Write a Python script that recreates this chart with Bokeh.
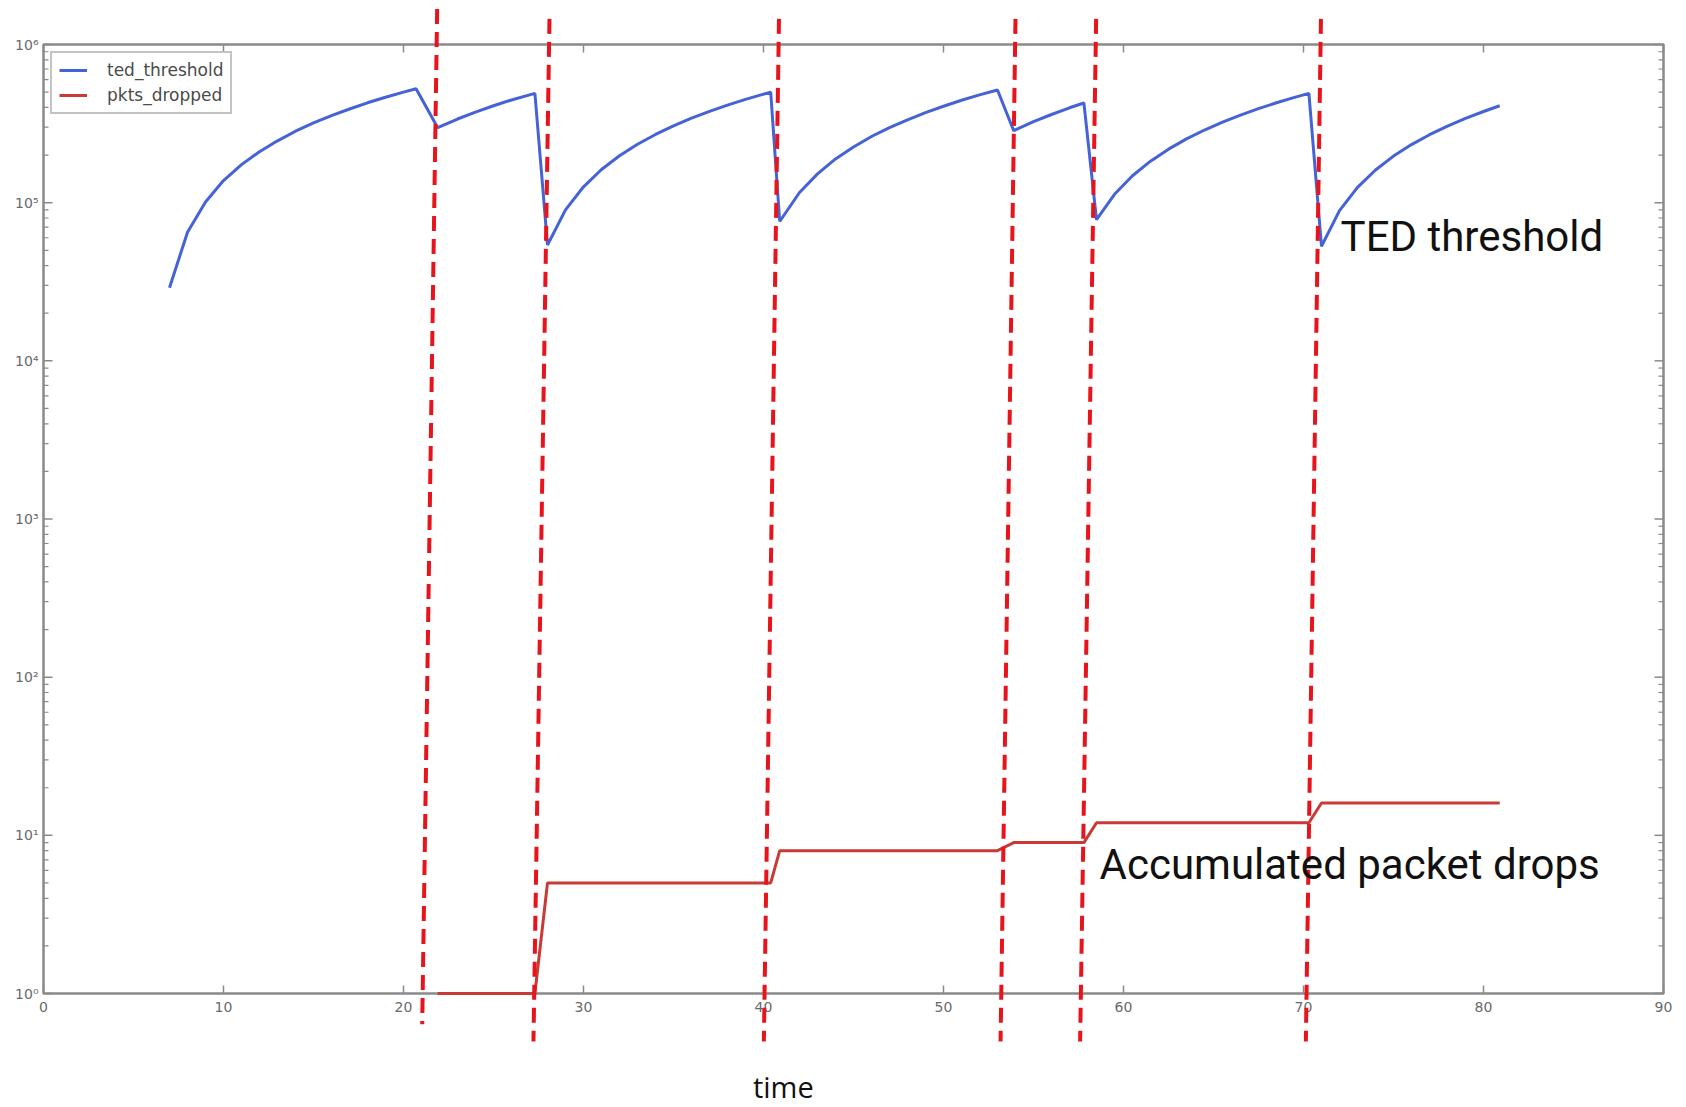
import math
from bokeh.plotting import figure
from bokeh.models import Legend, LegendItem, Label, Range1d, ColumnDataSource
from bokeh.core.properties import value
from bokeh.embed import file_html
from bokeh.resources import INLINE

# ---- data ----
ted_t = [7, 8, 9, 10, 11, 12, 13, 14, 15, 16, 17, 18, 19, 20, 20.7,
         21.9, 23, 24, 25, 26, 27.3,
         28.0, 29, 30, 31, 32, 33, 34, 35, 36, 37, 38, 39, 40.4,
         40.9, 42, 43, 44, 45, 46, 47, 48, 49, 50, 51, 52, 53.0,
         53.9, 55, 56, 57, 57.8,
         58.5, 59.5, 60.5, 61.5, 62.5, 63.5, 64.5, 65.5, 66.5, 67.5, 68.5, 69.5, 70.3,
         71.0, 72, 73, 74, 75, 76, 77, 78, 79, 80, 80.9]
ted_threshold = [29000, 65000, 101000, 138000, 174000, 210000, 246000, 283000, 319000,
                 355000, 391000, 428000, 464000, 500000, 525000,
                 298000, 338000, 374000, 410000, 446000, 491000,
                 54000, 90000, 126000, 162000, 198000, 234000, 270000, 306000, 342000,
                 378000, 414000, 450000, 500000,
                 76000, 116000, 152000, 189000, 225000, 262000, 298000, 334000, 371000,
                 407000, 444000, 480000, 516000,
                 285000, 325000, 361000, 398000, 427000,
                 78000, 113000, 148000, 183000, 218000, 253000, 288000, 323000, 358000,
                 393000, 428000, 463000, 491000,
                 53000, 89000, 125000, 161000, 197000, 233000, 269000, 305000, 341000,
                 377000, 410000]

pkts_t = [21.9, 27.3, 28.0, 40.4, 40.9, 53.0, 53.9, 57.8, 58.5, 70.3, 71.0, 80.9]
pkts_dropped = [1, 1, 5, 5, 8, 8, 9, 9, 12, 12, 16, 16]

# hand-drawn dashed event markers (slightly slanted): time at top and at bottom
event_top_t = [21.87, 28.11, 40.86, 54.0, 58.48, 70.97]
event_bottom_t = [21.04, 27.22, 40.02, 53.17, 57.59, 70.13]
event_top_exp = [6.224, 6.162, 6.162, 6.162, 6.162, 6.162]
event_bottom_exp = [-0.194, -0.303, -0.303, -0.303, -0.303, -0.303]

x_ticks = [0, 10, 20, 30, 40, 50, 60, 70, 80, 90]
x_tick_labels = ["0", "10", "20", "30", "40", "50", "60", "70", "80", "90"]
y_ticks = [1, 10, 100, 1000, 10000, 100000, 1000000]
y_tick_labels = ["10\u2070", "10\u00b9", "10\u00b2", "10\u00b3", "10\u2074", "10\u2075", "10\u2076"]
y_minor_ticks = [m * d for d in y_ticks[:-1] for m in range(2, 10)]

# axes box limits
X_MIN, X_MAX = 0, 90
Y_MIN, Y_MAX = 1, 1e6

BLUE = "#4563d6"
RED = "#c93a36"
DASH_RED = "#e8141b"
GREY = "#8a8a8a"
LABEL_GREY = "#6a6a6a"

# the frame covers the whole canvas; the matplotlib-style axes box is drawn inside it
p = figure(frame_width=1680, frame_height=1106, y_axis_type="log",
           x_axis_location=None, y_axis_location=None,
           x_range=Range1d(-43 / 18.0, (1680 - 43) / 18.0),
           y_range=Range1d(10 ** -0.7144, 10 ** 6.2782),
           output_backend="svg", toolbar_location=None,
           min_border_left=0, min_border_top=0, min_border_right=0, min_border_bottom=0)
p.background_fill_color = "white"
p.border_fill_color = "white"
p.grid.visible = False
p.outline_line_color = None

# axes box (spines)
p.quad(left=[X_MIN], right=[X_MAX], bottom=[Y_MIN], top=[Y_MAX],
       fill_color=None, line_color=GREY, line_width=2.5)

# ticks, all pointing inwards
nx, ny, nm = len(x_ticks), len(y_ticks), len(y_minor_ticks)
tick = dict(length_units="screen", line_color=GREY)
p.ray(x=x_ticks, y=[Y_MIN] * nx, length=8, angle=math.pi / 2, line_width=1.5, **tick)
p.ray(x=x_ticks, y=[Y_MAX] * nx, length=8, angle=-math.pi / 2, line_width=1.5, **tick)
p.ray(x=[X_MIN] * ny, y=y_ticks, length=9, angle=0, line_width=1.5, **tick)
p.ray(x=[X_MAX] * ny, y=y_ticks, length=9, angle=math.pi, line_width=1.5, **tick)
p.ray(x=[X_MIN] * nm, y=y_minor_ticks, length=5, angle=0, line_width=1.2, **tick)
p.ray(x=[X_MAX] * nm, y=y_minor_ticks, length=5, angle=math.pi, line_width=1.2, **tick)

# tick labels
p.text(x=x_ticks, y=[Y_MIN] * nx, text=x_tick_labels, y_offset=8,
       text_align="center", text_baseline="top", text_font=value("DejaVu Sans"),
       text_font_size="14px", text_color=LABEL_GREY)
p.text(x=[X_MIN] * ny, y=y_ticks, text=y_tick_labels, x_offset=-5,
       text_align="right", text_baseline="middle", text_font=value("DejaVu Sans"),
       text_font_size="14px", text_color=LABEL_GREY)

src_ted = ColumnDataSource(dict(t=ted_t, v=ted_threshold))
src_pk = ColumnDataSource(dict(t=pkts_t, v=pkts_dropped))
r_ted = p.line("t", "v", source=src_ted, line_color=BLUE, line_width=3)
r_pk = p.line("t", "v", source=src_pk, line_color=RED, line_width=3)

# dashed slanted event lines
p.segment(x0=event_top_t, y0=[10 ** e for e in event_top_exp],
          x1=event_bottom_t, y1=[10 ** e for e in event_bottom_exp],
          line_color=DASH_RED, line_width=4, line_dash="15 8")

legend = Legend(items=[LegendItem(label="ted_threshold", renderers=[r_ted]),
                       LegendItem(label="pkts_dropped", renderers=[r_pk])],
                location=(50, 992), padding=7, spacing=5,
                glyph_width=28, glyph_height=20, label_height=20, label_standoff=20,
                label_text_font="DejaVu Sans", label_text_font_size="17px",
                label_text_color="#4a4a4a", border_line_color=GREY,
                border_line_width=2, background_fill_color="white",
                background_fill_alpha=1)
p.add_layout(legend)

big_font = "Roboto"
p.add_layout(Label(x=72.06, y=10 ** 4.785, text="TED threshold", text_font=big_font,
                   text_font_size="42px", text_color="#111111",
                   text_align="left", text_baseline="alphabetic"))
p.add_layout(Label(x=58.67, y=10 ** 0.814, text="Accumulated packet drops", text_font=big_font,
                   text_font_size="42px", text_color="#111111",
                   text_align="left", text_baseline="alphabetic"))
# x-axis caption (placed left of centre, as in the original)
p.add_layout(Label(x=41.1, y=10 ** -0.59, text="time", text_font="Open Sans",
                   text_font_size="29px", text_color="#111111",
                   text_align="center", text_baseline="alphabetic"))

open("out.html", "w").write(file_html(p, INLINE))
